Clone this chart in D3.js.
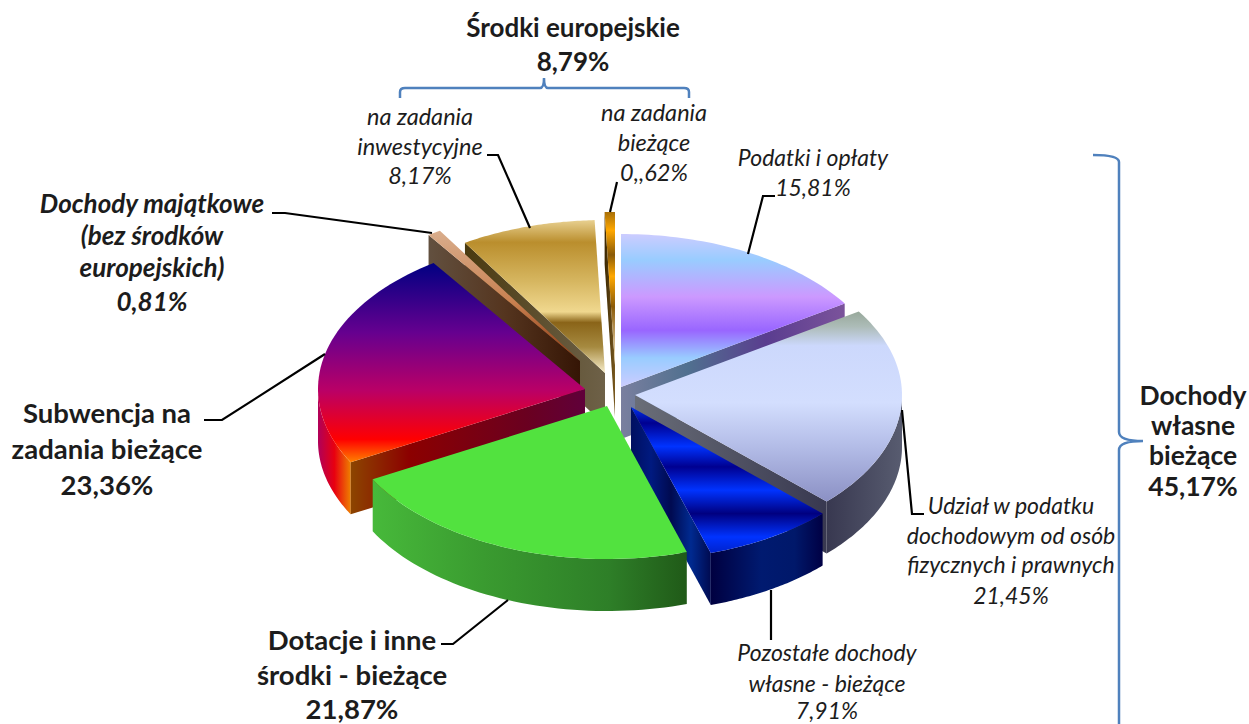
<!DOCTYPE html>
<html>
<head>
<meta charset="utf-8">
<script src="https://cdn.jsdelivr.net/npm/d3@7"></script>
<style>
html, body { margin: 0; padding: 0; background: #fff; }
svg { display: block; }
text { font-family: Lato, "Open Sans", sans-serif; fill: #1c1c1c; }
</style>
</head>
<body>
<svg id="chart" width="1249" height="724"></svg>
<script>
// data, clockwise from 12 o'clock
const categories = ["Podatki i opłaty", "Udział w podatku", "Pozostałe dochody własne", "Dotacje i inne środki",
    "Subwencja", "Dochody majątkowe", "na zadania inwestycyjne", "na zadania bieżące"];
const shares = [15.81, 21.45, 7.91, 21.87, 23.36, 0.81, 8.17, 0.62];

// where each slice was pulled out to (apex of the slice)
const apexX = [621, 635, 631, 607, 585, 580, 605, 615];
const apexY = [387, 395, 407, 406, 389, 361, 373, 365];
// painter's order, back to front
const drawOrder = [0, 7, 6, 5, 4, 1, 2, 3];

const rx = 267, ry = 153, depth = 52;
const scaleX = d3.scaleLinear().domain([-1, 1]).range([-rx, rx]);
const scaleY = d3.scaleLinear().domain([-1, 1]).range([-ry, ry]);

const svg = d3.select("#chart");
const defs = svg.append("defs");

function gradient(id, dir, stops) {
    const g = defs.append("linearGradient").attr("id", id)
        .attr("x1", 0).attr("y1", 0)
        .attr("x2", dir == "h" ? 1 : 0)
        .attr("y2", dir == "h" ? 0 : 1);
    stops.forEach(s => g.append("stop").attr("offset", s[0]).attr("stop-color", s[1]));
}

// top faces
gradient("top0", "v", [[0, "#ccccff"], [.17, "#99ccff"], [.41, "#cc99ff"], [.63, "#9966ff"], [.81, "#99ccff"], [1, "#ccccff"]]);
gradient("top1", "v", [[0, "#97a89a"], [.08, "#adbcb8"], [.18, "#ccd8fc"], [.48, "#d3defe"], [.72, "#b2bbe6"], [1, "#8b90c4"]]);
gradient("top2", "v", [[0, "#0033ee"], [.11, "#000090"], [.27, "#0033ff"], [.41, "#000090"], [.57, "#0033ff"], [.73, "#000080"], [.89, "#0033ff"], [1, "#0022cc"]]);
gradient("top3", "v", [[0, "#52e23f"], [1, "#52e23f"]]);
gradient("top4", "v", [[0, "#000082"], [.35, "#66008f"], [.64, "#ba0066"], [.885, "#ff0000"], [1, "#ff8200"]]);
gradient("top5", "v", [[0, "#d9ad8c"], [.55, "#c88050"], [1, "#8a3510"]]);
gradient("top6", "v", [[0, "#e8d090"], [.145, "#ba8e2d"], [.4, "#d6b660"], [.6, "#f0d88f"], [.67, "#8a6418"], [.83, "#a68a40"], [1, "#f8eecb"]]);
gradient("top7", "v", [[0, "#a86f08"], [.12, "#ffa800"], [.28, "#8a5a08"], [.42, "#ffa800"], [.62, "#8a5a08"], [1, "#fff0d0"]]);
// flat cut walls
gradient("cut0", "h", [[0, "#7a7f9f"], [.3, "#50708f"], [.65, "#5a3d8f"], [1, "#7b539b"]]);
gradient("cut1", "h", [[0, "#6a6e78"], [1, "#383850"]]);
gradient("cut2", "h", [[0, "#000f60"], [.25, "#001a80"], [.5, "#000a50"], [.75, "#002a90"], [1, "#000a50"]]);
gradient("cut4", "h", [[0, "#8c4500"], [.25, "#8c0000"], [.75, "#6a0020"], [1, "#60003a"]]);
gradient("cut5", "h", [[0, "#62503f"], [.5, "#55351f"], [1, "#351505"]]);
gradient("cut6", "h", [[0, "#4a3a10"], [.55, "#5e5030"], [1, "#6e6148"]]);
gradient("cut7", "h", [[0, "#3a2600"], [1, "#7a5a20"]]);
// outer rims
gradient("rim1", "h", [[0, "#383850"], [1, "#585c70"]]);
gradient("rim2", "h", [[0, "#000040"], [.45, "#001a70"], [.75, "#00186a"], [1, "#000044"]]);
gradient("rim3", "h", [[0, "#47b93a"], [.35, "#3a9b30"], [.75, "#2e7f28"], [1, "#205a18"]]);
gradient("rim4", "h", [[0, "#b0005a"], [.5, "#e80010"], [1, "#ee8000"]]);

const pie = d3.pie().sort(null).value(d => d);
const arcs = pie(shares);
const line = d3.line();

function rim(i, a) {
    return [apexX[i] + scaleX(Math.sin(a)), apexY[i] + scaleY(-Math.cos(a))];
}
function arcPoints(i, a0, a1) {
    const n = 48;
    return d3.range(n + 1).map(k => rim(i, a0 + (a1 - a0) * k / n));
}
const drop = p => [p[0], p[1] + depth];

function drawSlice(i) {
    const a = arcs[i];
    const g = svg.append("g").attr("class", "slice").attr("data-name", categories[i]);
    const apex = [apexX[i], apexY[i]];

    // outer rim, only the part facing the viewer
    const r0 = Math.max(a.startAngle, Math.PI / 2);
    const r1 = Math.min(a.endAngle, Math.PI * 1.5);
    if (r1 > r0) {
        const up = arcPoints(i, r0, r1);
        g.append("path")
            .attr("d", line(up.concat(up.map(drop).reverse())) + "Z")
            .attr("fill", `url(#rim${i})`);
    }
    // flat cut wall
    let cutAngle = null;
    if (a.endAngle <= Math.PI) cutAngle = a.endAngle;
    else if (a.startAngle >= Math.PI) cutAngle = a.startAngle;
    if (cutAngle !== null) {
        const e = rim(i, cutAngle);
        g.append("path")
            .attr("d", line([apex, e, drop(e), drop(apex)]) + "Z")
            .attr("fill", `url(#cut${i})`);
    }
    // top face
    g.append("path")
        .attr("d", line([apex].concat(arcPoints(i, a.startAngle, a.endAngle))) + "Z")
        .attr("fill", `url(#top${i})`);
}
drawOrder.forEach(drawSlice);

// leader lines
const leaders = [
    [[748, 254], [763, 196], [775, 196]],
    [[902, 410], [912, 514], [924, 514]],
    [[771, 590], [771, 640]],
    [[508, 600], [453, 644], [441, 644]],
    [[325, 354], [222, 420], [204, 420]],
    [[432, 233], [285, 213], [272, 213]],
    [[530, 228], [498, 155], [487, 155]],
    [[610, 212], [617, 182]]
];
svg.append("g").selectAll("path").data(leaders).join("path")
    .attr("d", d => line(d))
    .attr("fill", "none")
    .attr("stroke", "#000")
    .attr("stroke-width", 2.2);

// blue braces
const braces = [
    "M400,98 L400,92 Q400,88 405,88 L540,88 Q544,88 544,78 Q544,88 548,88 L684,88 Q689,88 689,92 L689,98",
    "M1093,155 Q1119,155 1119,162 L1119,432 Q1119,441 1143,441 Q1119,441 1119,450 L1119,724"
];
svg.append("g").selectAll("path").data(braces).join("path")
    .attr("d", d => d)
    .attr("fill", "none")
    .attr("stroke", "#4f81bd")
    .attr("stroke-width", 2.5);

// text blocks: anchor x, size, weight, style, then [line, baseline]
const labels = [
    {x: 573, size: 26, weight: 700, lines: [["Środki europejskie", 37], ["8,79%", 71]]},
    {x: 420, size: 23.5, style: "italic", lines: [["na zadania", 125], ["inwestycyjne", 155], ["8,17%", 184]]},
    {x: 654, size: 23.5, style: "italic", lines: [["na zadania", 121], ["bieżące", 151], ["0,,62%", 181]]},
    {x: 813, size: 23, style: "italic", lines: [["Podatki i opłaty", 166], ["15,81%", 196]]},
    {x: 1011, size: 23, style: "italic", lines: [["Udział w podatku", 514], ["dochodowym od osób", 544], ["fizycznych i prawnych", 573], ["21,45%", 604]]},
    {x: 827, size: 23, style: "italic", lines: [["Pozostałe dochody", 661], ["własne - bieżące", 692], ["7,91%", 719]]},
    {x: 352, size: 27.5, weight: 700, lines: [["Dotacje i inne", 650], ["środki - bieżące", 685], ["21,87%", 719]]},
    {x: 107, size: 27.5, weight: 700, lines: [["Subwencja na", 423], ["zadania bieżące", 459], ["23,36%", 495]]},
    {x: 152, size: 26, weight: 700, style: "italic", lines: [["Dochody majątkowe", 213], ["(bez środków", 245], ["europejskich)", 277], ["0,81%", 311]]},
    {x: 1193, size: 26.5, weight: 700, lines: [["Dochody", 405], ["własne", 435], ["bieżące", 465], ["45,17%", 496]]}
];
labels.forEach(l => {
    svg.append("g").selectAll("text").data(l.lines).join("text")
        .attr("x", l.x)
        .attr("y", d => d[1])
        .attr("text-anchor", "middle")
        .attr("font-size", l.size)
        .attr("font-weight", l.weight || 400)
        .attr("font-style", l.style || "normal")
        .text(d => d[0]);
});
</script>
</body>
</html>
